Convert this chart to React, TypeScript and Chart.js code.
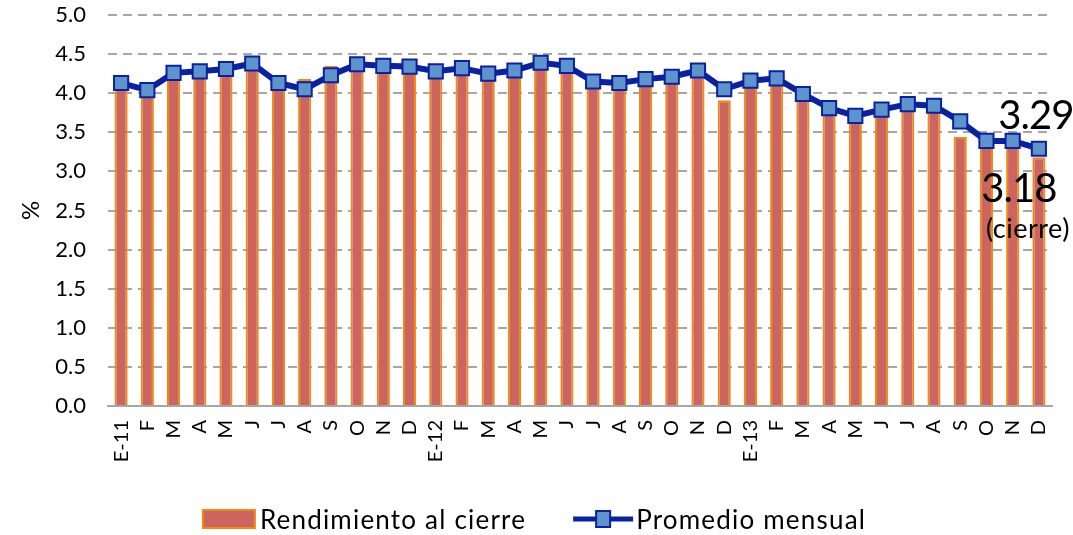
import React, { useEffect, useRef } from "react";
import { Chart, registerables } from "chart.js";

Chart.register(...registerables);

const categories: string[] = [
  "E-11", "F", "M", "A", "M", "J", "J", "A", "S", "O", "N", "D",
  "E-12", "F", "M", "A", "M", "J", "J", "A", "S", "O", "N", "D",
  "E-13", "F", "M", "A", "M", "J", "J", "A", "S", "O", "N", "D",
];

const rendimientoCierre: number[] = [
  4.10, 4.12, 4.25, 4.26, 4.30, 4.36, 4.10, 4.18, 4.35, 4.35, 4.33, 4.33,
  4.26, 4.30, 4.22, 4.28, 4.38, 4.32, 4.12, 4.10, 4.16, 4.19, 4.27, 3.91,
  4.13, 4.17, 3.96, 3.78, 3.68, 3.77, 3.83, 3.81, 3.44, 3.37, 3.36, 3.18,
];

const promedioMensual: number[] = [
  4.13, 4.04, 4.26, 4.28, 4.31, 4.38, 4.13, 4.05, 4.23, 4.37, 4.35, 4.34,
  4.28, 4.32, 4.25, 4.29, 4.39, 4.35, 4.15, 4.13, 4.18, 4.21, 4.29, 4.05,
  4.16, 4.19, 3.99, 3.81, 3.71, 3.79, 3.86, 3.84, 3.64, 3.39, 3.39, 3.29,
];

const yTicks: number[] = [0, 0.5, 1, 1.5, 2, 2.5, 3, 3.5, 4, 4.5, 5];

const seriesNames: string[] = ["Rendimiento al cierre", "Promedio mensual"];
const annotLast: string = "3.29";
const annotClose: string = "3.18";
const annotCloseNote: string = "(cierre)";

const FONT = "Lato, 'Noto Sans', sans-serif";
const BAR_FILL = "#CC655F";
const BAR_BORDER = "#F08A12";
const LINE_COLOR = "#0A22A2";
const MARKER_FILL = "#5E94CC";

export default function App() {
  const ref = useRef<HTMLCanvasElement | null>(null);

  useEffect(() => {
    if (!ref.current) return;

    const annotPlugin = {
      id: "annots",
      afterDatasetsDraw(chart: any) {
        const ctx = chart.ctx;
        const xs = chart.scales.x;
        const ys = chart.scales.y;
        const last = categories.length - 1;
        const lx = xs.getPixelForValue(last);
        ctx.save();
        ctx.fillStyle = "#000";
        ctx.textAlign = "center";
        ctx.textBaseline = "alphabetic";
        ctx.font = `40px ${FONT}`;
        (ctx as any).letterSpacing = "-1px";
        ctx.fillText(annotLast, lx - 3, ys.getPixelForValue(promedioMensual[last]) - 20);
        ctx.fillText(annotClose, lx - 20, ys.getPixelForValue(rendimientoCierre[last]) + 45);
        ctx.font = `27px ${FONT}`;
        (ctx as any).letterSpacing = "0.5px";
        ctx.fillText(annotCloseNote, lx - 11, ys.getPixelForValue(rendimientoCierre[last]) + 81);
        ctx.restore();
      },
    };

    const legendPlugin = {
      id: "customLegend",
      afterDraw(chart: any) {
        const ctx = chart.ctx;
        ctx.save();
        ctx.font = `26px ${FONT}`;
        (ctx as any).letterSpacing = "1.2px";
        const w1 = ctx.measureText(seriesNames[0]).width;
        const w2 = ctx.measureText(seriesNames[1]).width;
        const boxW = 52, gap1 = 5, spacing = 47, lineW = 60, gap2 = 3;
        const total = boxW + gap1 + w1 + spacing + lineW + gap2 + w2;
        let x = chart.width / 2 - total / 2 - 2;
        const cy = 519;
        ctx.fillStyle = BAR_FILL;
        ctx.fillRect(x, cy - 9, boxW, 18);
        ctx.strokeStyle = BAR_BORDER;
        ctx.lineWidth = 2;
        ctx.strokeRect(x, cy - 9, boxW, 18);
        x += boxW + gap1;
        ctx.fillStyle = "#000";
        ctx.textAlign = "left";
        ctx.textBaseline = "middle";
        ctx.fillText(seriesNames[0], x, cy + 2);
        x += w1 + spacing;
        ctx.strokeStyle = LINE_COLOR;
        ctx.lineWidth = 5;
        ctx.beginPath();
        ctx.moveTo(x, cy);
        ctx.lineTo(x + lineW, cy);
        ctx.stroke();
        ctx.fillStyle = MARKER_FILL;
        ctx.lineWidth = 2;
        ctx.fillRect(x + lineW / 2 - 7, cy - 8, 14, 16);
        ctx.strokeRect(x + lineW / 2 - 7, cy - 8, 14, 16);
        x += lineW + gap2;
        ctx.fillStyle = "#000";
        ctx.fillText(seriesNames[1], x, cy + 2);
        ctx.restore();
      },
    };

    const chart = new Chart(ref.current, {
      type: "bar",
      data: {
        labels: categories,
        datasets: [
          {
            type: "line",
            label: seriesNames[1],
            data: promedioMensual,
            borderColor: LINE_COLOR,
            borderWidth: 6,
            pointStyle: "rect",
            pointRadius: 10,
            pointBackgroundColor: MARKER_FILL,
            pointBorderColor: LINE_COLOR,
            pointBorderWidth: 2,
            tension: 0,
            order: 0,
          } as any,
          {
            type: "bar",
            label: seriesNames[0],
            data: rendimientoCierre,
            backgroundColor: BAR_FILL,
            borderColor: BAR_BORDER,
            borderWidth: { left: 2, right: 2, top: 2, bottom: 0 },
            categoryPercentage: 1,
            barPercentage: 0.5,
            order: 1,
          } as any,
        ],
      },
      options: {
        responsive: false,
        animation: false,
        layout: { padding: { left: 8, right: 21, top: 15, bottom: 0 } },
        plugins: {
          legend: { display: false },
          tooltip: { enabled: false },
        },
        scales: {
          x: {
            grid: { display: false },
            border: { display: true, color: "#A6A6A6", width: 2 },
            ticks: {
              color: "#000",
              font: { family: FONT, size: 20 },
              minRotation: 90,
              maxRotation: 90,
              autoSkip: false,
              padding: 6,
            },
            afterFit(scale: any) {
              scale.height = 129;
            },
          },
          y: {
            min: 0,
            max: 5,
            afterBuildTicks(scale: any) {
              scale.ticks = yTicks.map((v) => ({ value: v }));
            },
            grid: { color: "#A6A6A6", lineWidth: 2, drawTicks: false },
            border: { display: false, dash: [9, 6] },
            ticks: {
              color: "#000",
              font: { family: FONT, size: 22 },
              padding: 22,
              callback: (v: any) => Number(v).toFixed(1),
            },
            title: {
              display: true,
              text: "%",
              color: "#000",
              font: { family: FONT, size: 24 },
              padding: { top: 9, bottom: 0 },
            },
            afterFit(scale: any) {
              scale.width = 100;
              scale.paddingTop = 0;
              scale.paddingBottom = 0;
            },
          },
        },
      },
      plugins: [annotPlugin, legendPlugin],
    });

    return () => chart.destroy();
  }, []);

  return (
    <div style={{ position: "absolute", left: 0, top: 0, width: 1073, height: 535, background: "#fff" }}>
      <canvas ref={ref} width={1073} height={535} />
    </div>
  );
}
